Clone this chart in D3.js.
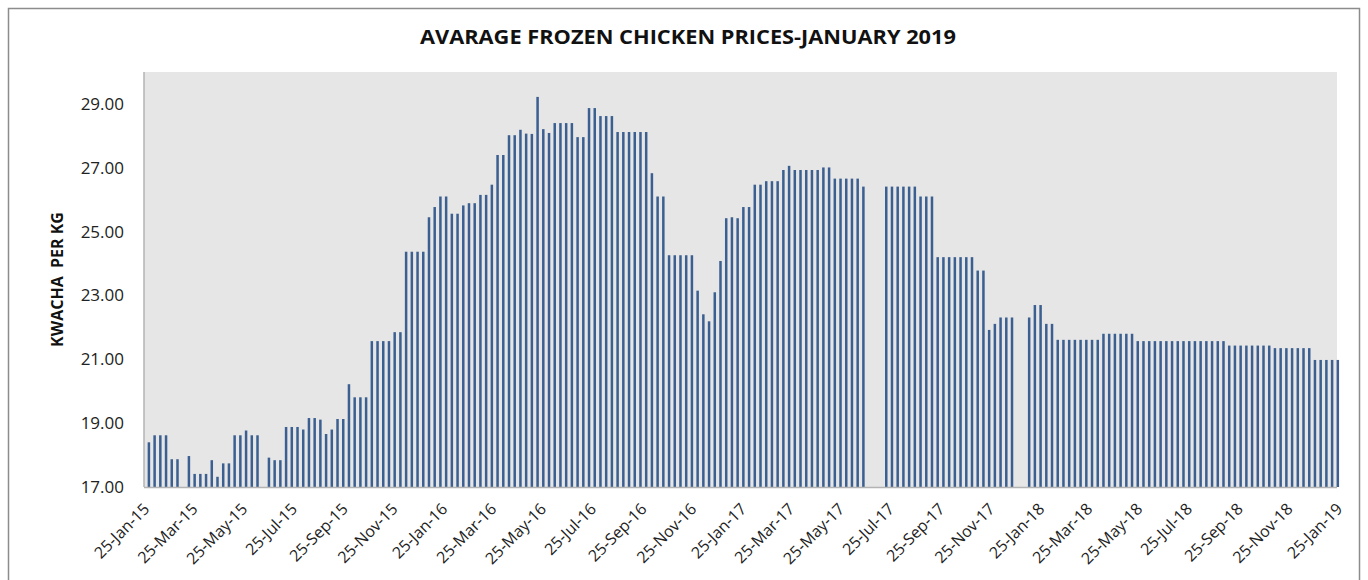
<!DOCTYPE html>
<html>
<head>
<meta charset="utf-8">
<script src="https://cdn.jsdelivr.net/npm/d3@7"></script>
<style>
  body { margin: 0; background: #fff; }
  text { font-family: "Open Sans", "Liberation Sans", sans-serif; fill: #222; }
</style>
</head>
<body>
<svg id="chart" width="1368" height="580"></svg>
<script>
// weekly average prices (kwacha per kg), null where no survey was recorded
var firstWeek = '31-Jan-15';
var prices = [
  18.40, 18.62, 18.62, 18.62, 17.87, 17.87, null, 17.97, 17.41, 17.41,
  17.41, 17.84, 17.32, 17.74, 17.74, 18.62, 18.62, 18.77, 18.62, 18.62,
  null, 17.92, 17.84, 17.84, 18.88, 18.88, 18.88, 18.80, 19.16, 19.16,
  19.11, 18.66, 18.80, 19.13, 19.13, 20.22, 19.81, 19.81, 19.81, 21.57,
  21.57, 21.57, 21.57, 21.85, 21.85, 24.37, 24.37, 24.37, 24.37, 25.45,
  25.77, 26.10, 26.10, 25.56, 25.56, 25.82, 25.89, 25.89, 26.15, 26.15,
  26.47, 27.40, 27.40, 28.02, 28.02, 28.19, 28.07, 28.06, 29.22, 28.21,
  28.09, 28.40, 28.40, 28.40, 28.40, 27.96, 27.96, 28.87, 28.87, 28.62,
  28.62, 28.62, 28.12, 28.12, 28.12, 28.12, 28.12, 28.12, 26.83, 26.10,
  26.10, 24.26, 24.26, 24.26, 24.26, 24.26, 23.15, 22.41, 22.19, 23.10,
  24.08, 25.42, 25.45, 25.42, 25.77, 25.77, 26.47, 26.47, 26.58, 26.58,
  26.58, 26.93, 27.06, 26.93, 26.93, 26.93, 26.93, 26.93, 27.01, 27.01,
  26.66, 26.66, 26.66, 26.66, 26.66, 26.41, null, null, null, 26.41,
  26.41, 26.41, 26.41, 26.41, 26.41, 26.10, 26.10, 26.10, 24.20, 24.20,
  24.20, 24.20, 24.20, 24.20, 24.20, 23.78, 23.78, 21.92, 22.11, 22.31,
  22.31, 22.31, null, null, 22.31, 22.70, 22.70, 22.11, 22.11, 21.61,
  21.61, 21.61, 21.61, 21.61, 21.61, 21.61, 21.61, 21.80, 21.80, 21.80,
  21.80, 21.80, 21.80, 21.57, 21.57, 21.57, 21.57, 21.57, 21.57, 21.57,
  21.57, 21.57, 21.57, 21.57, 21.57, 21.57, 21.57, 21.57, 21.57, 21.43,
  21.43, 21.43, 21.43, 21.43, 21.43, 21.43, 21.43, 21.35, 21.35, 21.35,
  21.35, 21.35, 21.35, 21.35, 20.98, 20.98, 20.98, 20.98, 20.98
];

// axis labels
var xTickLabels = [
  '25-Jan-15', '25-Mar-15', '25-May-15', '25-Jul-15', '25-Sep-15', '25-Nov-15',
  '25-Jan-16', '25-Mar-16', '25-May-16', '25-Jul-16', '25-Sep-16', '25-Nov-16',
  '25-Jan-17', '25-Mar-17', '25-May-17', '25-Jul-17', '25-Sep-17', '25-Nov-17',
  '25-Jan-18', '25-Mar-18', '25-May-18', '25-Jul-18', '25-Sep-18', '25-Nov-18',
  '25-Jan-19'
];
var yTicks = [17, 19, 21, 23, 25, 27, 29];
var chartTitle = 'AVARAGE FROZEN CHICKEN PRICES-JANUARY 2019';
var yTitle = 'KWACHA  PER KG';

var svg = d3.select('#chart');
var width = +svg.attr('width');
var height = +svg.attr('height');

// plot area in pixels
var plot = { left: 144, right: 1337, top: 72, bottom: 487 };

var parseDate = d3.utcParse('%d-%b-%y');
var tickDates = xTickLabels.map(parseDate);
var start = parseDate(firstWeek);

// one record per week
var data = prices.map(function (v, i) {
  return { date: d3.utcDay.offset(start, 7 * i), value: v };
});

var x = d3.scaleUtc()
  .domain([tickDates[0], tickDates[tickDates.length - 1]])
  .range([plot.left, plot.right]);

var y = d3.scaleLinear()
  .domain([17, 30])
  .range([plot.bottom, plot.top]);

// outer chart frame
svg.append('rect')
  .attr('x', 8.5).attr('y', 8.5)
  .attr('width', width - 17).attr('height', height)
  .attr('fill', '#fff')
  .attr('stroke', '#8c8c8c')
  .attr('stroke-width', 1.5);

// plot background
svg.append('rect')
  .attr('x', plot.left).attr('y', plot.top)
  .attr('width', plot.right - plot.left)
  .attr('height', plot.bottom - plot.top)
  .attr('fill', '#e6e6e6');

// title (stretched to the width of the original)
svg.append('text')
  .attr('x', 688).attr('y', 44)
  .attr('text-anchor', 'middle')
  .attr('textLength', 536)
  .attr('lengthAdjust', 'spacingAndGlyphs')
  .style('font-size', '19px')
  .style('font-weight', 'bold')
  .style('fill', '#111')
  .text(chartTitle);

// bars
svg.append('g')
  .selectAll('rect')
  .data(data.filter(function (d) { return d.value != null; }))
  .join('rect')
  .attr('x', function (d) { return x(d.date) - 1.25; })
  .attr('width', 2.5)
  .attr('y', function (d) { return y(d.value); })
  .attr('height', function (d) { return plot.bottom - y(d.value); })
  .attr('fill', '#3a5f90');

// axis lines
svg.append('line')
  .attr('x1', plot.left).attr('x2', plot.left)
  .attr('y1', plot.top).attr('y2', plot.bottom)
  .attr('stroke', '#b3b3b3').attr('stroke-width', 1.5);
svg.append('line')
  .attr('x1', plot.left).attr('x2', plot.right)
  .attr('y1', plot.bottom + 0.5).attr('y2', plot.bottom + 0.5)
  .attr('stroke', '#b3b3b3').attr('stroke-width', 1.5);

// y axis labels
var yAxis = svg.append('g')
  .attr('transform', 'translate(' + plot.left + ',0)')
  .call(d3.axisLeft(y)
    .tickValues(yTicks)
    .tickFormat(d3.format('.2f'))
    .tickSize(0)
    .tickPadding(20));
yAxis.select('.domain').remove();
yAxis.selectAll('text')
  .style('font-size', '17px')
  .style('font-family', '"Open Sans", sans-serif')
  .style('fill', '#222');

// x axis labels, rotated
var xAxis = svg.append('g')
  .attr('transform', 'translate(0,' + plot.bottom + ')')
  .call(d3.axisBottom(x)
    .tickValues(tickDates)
    .tickFormat(d3.utcFormat('%d-%b-%y'))
    .tickSize(0));
xAxis.select('.domain').remove();
xAxis.selectAll('text')
  .attr('text-anchor', 'end')
  .attr('x', 0).attr('y', 0).attr('dy', '0.35em')
  .attr('transform', 'translate(2,19) rotate(-45)')
  .style('font-size', '16px')
  .style('font-family', '"Open Sans", sans-serif')
  .style('fill', '#222');

// y axis title
svg.append('text')
  .attr('transform', 'translate(63,' + ((plot.top + plot.bottom) / 2) + ') rotate(-90)')
  .attr('text-anchor', 'middle')
  .style('font-size', '16px')
  .style('font-weight', 'bold')
  .style('white-space', 'pre')
  .style('fill', '#111')
  .text(yTitle);
</script>
</body>
</html>
